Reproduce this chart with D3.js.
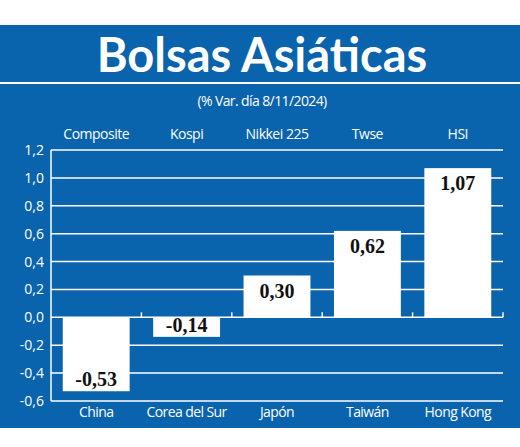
<!DOCTYPE html>
<html><head><meta charset="utf-8">
<script src="https://cdn.jsdelivr.net/npm/d3@7"></script>
<style>body{margin:0;background:#fff}</style>
</head><body>
<div id="chart"></div>
<script>
var indices = ["Composite", "Kospi", "Nikkei 225", "Twse", "HSI"];
var countries = ["China", "Corea del Sur", "Japón", "Taiwán", "Hong Kong"];
var values = [-0.53, -0.14, 0.30, 0.62, 1.07];
var yTicks = [-0.6, -0.4, -0.2, 0, 0.2, 0.4, 0.6, 0.8, 1.0, 1.2];

var W = 520, H = 447, blue = "#0963ad";
var svg = d3.select("#chart").append("svg").attr("width", W).attr("height", H);
var fmt = function(v) { return d3.format(".1f")(v).replace(".", ",").replace("−", "-"); };
var fmt2 = function(v) { return d3.format(".2f")(v).replace(".", ",").replace("−", "-"); };

svg.append("rect").attr("x", 0).attr("y", 25).attr("width", W).attr("height", 403).attr("fill", blue);
svg.append("line").attr("x1", 0).attr("x2", W).attr("y1", 83).attr("y2", 83)
    .attr("stroke", "white").attr("stroke-width", 2);
svg.append("text").attr("x", 262).attr("y", 72).attr("text-anchor", "middle")
    .attr("fill", "white").attr("font-family", "Lato").attr("font-weight", "bold")
    .attr("font-size", 47).text("Bolsas Asiáticas");
svg.append("text").attr("x", 262).attr("y", 106).attr("text-anchor", "middle")
    .attr("fill", "white").attr("font-family", "Open Sans").attr("font-size", 14)
    .attr("letter-spacing", -0.6).text("(% Var. día 8/11/2024)");

var x = d3.scaleBand().domain(countries).range([51, 503]).paddingInner(0.26).paddingOuter(0.13);
var y = d3.scaleLinear().domain([-0.6, 1.2]).range([401, 150]);

var g = svg.append("g");
g.selectAll(".grid").data(yTicks).enter().append("line")
    .attr("x1", 51).attr("x2", 503).attr("y1", function(d) { return y(d); }).attr("y2", function(d) { return y(d); })
    .attr("stroke", "white").attr("stroke-width", 1.5);
g.append("line").attr("x1", 51).attr("x2", 51).attr("y1", y(1.2)).attr("y2", y(-0.6))
    .attr("stroke", "white").attr("stroke-width", 1.5);
g.selectAll(".tk").data(d3.range(1, 6)).enter().append("line")
    .attr("x1", function(i) { return 51 + i * 90.4; }).attr("x2", function(i) { return 51 + i * 90.4; })
    .attr("y1", y(0) - 5).attr("y2", y(0)).attr("stroke", "white").attr("stroke-width", 1.5);
g.selectAll(".yl").data(yTicks).enter().append("text")
    .attr("x", 44).attr("y", function(d) { return y(d) + 5; }).attr("text-anchor", "end")
    .attr("fill", "white").attr("font-family", "Open Sans").attr("font-size", 14)
    .text(fmt);

g.selectAll(".bar").data(values).enter().append("rect")
    .attr("x", function(d, i) { return x(countries[i]); })
    .attr("width", x.bandwidth())
    .attr("y", function(d) { return y(Math.max(0, d)); })
    .attr("height", function(d) { return Math.abs(y(d) - y(0)); })
    .attr("fill", "white");
g.selectAll(".val").data(values).enter().append("text")
    .attr("x", function(d, i) { return x(countries[i]) + x.bandwidth() / 2; })
    .attr("y", function(d) { return d > 0 ? y(d) + 22 : y(d) - 5; })
    .attr("text-anchor", "middle").attr("font-family", "Liberation Serif").attr("font-weight", "bold")
    .attr("font-size", 20).attr("fill", "#111").text(fmt2);

g.selectAll(".top").data(indices).enter().append("text")
    .attr("x", function(d, i) { return x(countries[i]) + x.bandwidth() / 2; }).attr("y", 139)
    .attr("text-anchor", "middle").attr("fill", "white").attr("font-family", "Open Sans")
    .attr("font-size", 14).attr("letter-spacing", -0.5).text(function(d) { return d; });
g.selectAll(".bot").data(countries).enter().append("text")
    .attr("x", function(d) { return x(d) + x.bandwidth() / 2; }).attr("y", 417)
    .attr("text-anchor", "middle").attr("fill", "white").attr("font-family", "Open Sans")
    .attr("font-size", 14).attr("letter-spacing", -0.6).text(function(d) { return d; });
</script>
</body></html>
